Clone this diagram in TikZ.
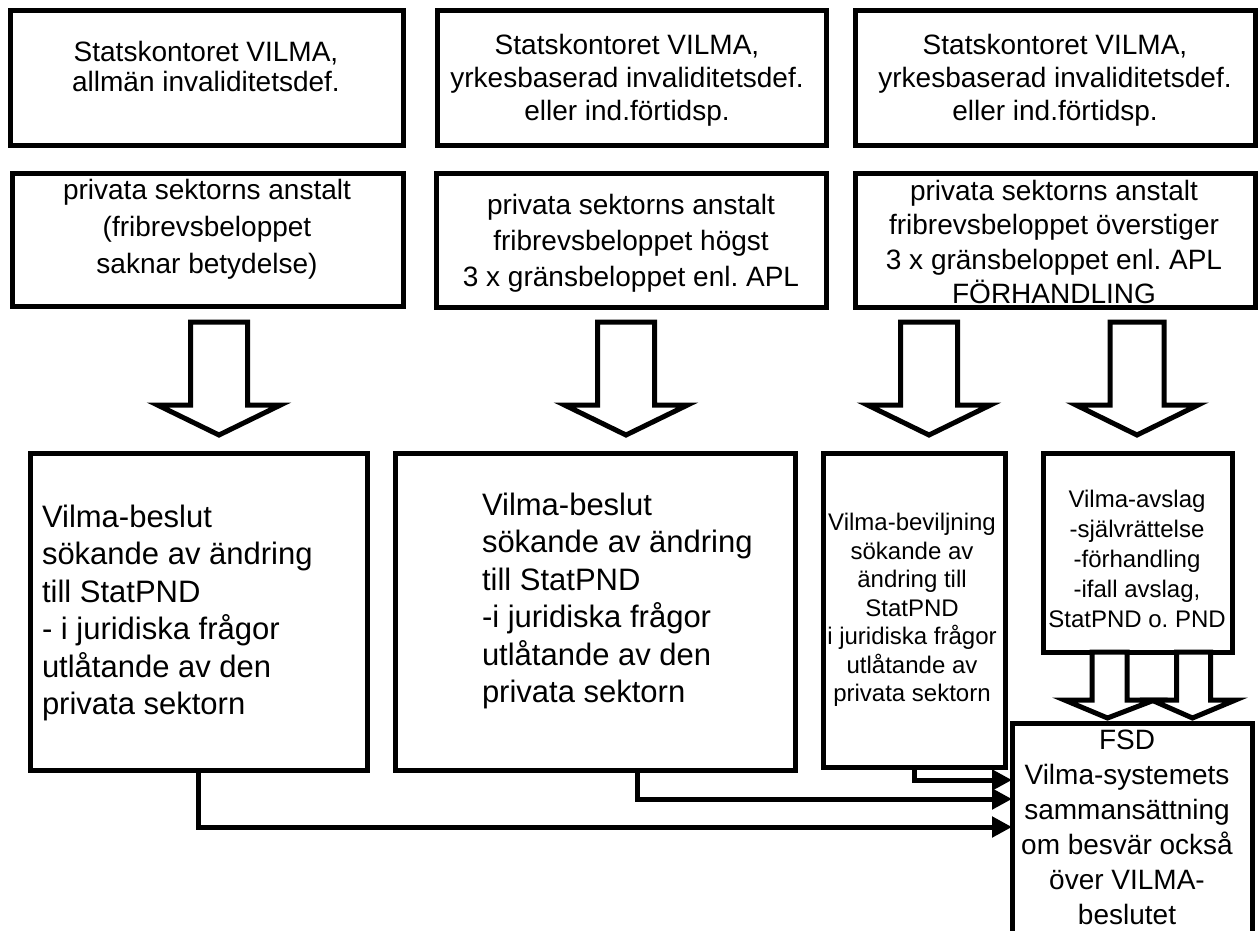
\documentclass[tikz,border=0pt]{standalone}
\usepackage{fontspec}
\setmainfont{Liberation Sans}
\usetikzlibrary{arrows.meta,calc}
\frenchspacing
\newcommand\downblock[7]{%
  \draw[barrow] (#1-#5,#2) -- (#1-#5,#3) -- (#1-#6,#3) -- (#1+#7,#4) -- (#1+#6,#3) -- (#1+#5,#3) -- (#1+#5,#2) -- cycle;}
\begin{document}
\begin{tikzpicture}[x=1pt,y=-1pt,
  box/.style={draw, line width=5pt, inner sep=0pt, outer sep=0pt},
  txt/.style={inner sep=0pt, outer sep=0pt, align=center},
  ltxt/.style={inner sep=0pt, outer sep=0pt, align=left, anchor=west},
  barrow/.style={draw, fill=white, line width=5pt, line join=miter},
  conn/.style={line width=5pt, -{Triangle[length=20pt,width=20pt]}},
]
\useasboundingbox (0,0) rectangle (1258,930);
\clip (0,0) rectangle (1258,930);

% texts
\node[txt, font=\fontsize{28pt}{30pt}\selectfont] (tA1) at (206,66) {Statskontoret VILMA,\\allmän invaliditetsdef.};
\node[txt, font=\fontsize{28pt}{33pt}\selectfont] (tA2) at (627,80) {Statskontoret VILMA,\\yrkesbaserad invaliditetsdef.\\eller ind.förtidsp.};
\node[txt, font=\fontsize{28pt}{33pt}\selectfont] (tA3) at (1055,80) {Statskontoret VILMA,\\yrkesbaserad invaliditetsdef.\\eller ind.förtidsp.};
\node[txt, font=\fontsize{28pt}{37pt}\selectfont] (tB1) at (207,229) {privata sektorns anstalt\\(fribrevsbeloppet\\saknar betydelse)};
\node[txt, font=\fontsize{28pt}{36pt}\selectfont] (tB2) at (631,243) {privata sektorns anstalt\\fribrevsbeloppet högst\\3 x gränsbeloppet enl. APL};
\node[txt, font=\fontsize{28pt}{34.5pt}\selectfont] (tB3) at (1054,242) {privata sektorns anstalt\\fribrevsbeloppet överstiger\\3 x gränsbeloppet enl. APL\\FÖRHANDLING};
\node[ltxt, font=\fontsize{31pt}{37.5pt}\selectfont] (tC1) at (42,613) {Vilma-beslut\\sökande av ändring\\till StatPND\\- i juridiska frågor\\utlåtande av den\\privata sektorn};
\node[ltxt, font=\fontsize{31pt}{37.5pt}\selectfont] (tC2) at (482,601) {Vilma-beslut\\sökande av ändring\\till StatPND\\-i juridiska frågor\\utlåtande av den\\privata sektorn};
\node[txt, font=\fontsize{24pt}{28.5pt}\selectfont] (tC3) at (912,610) {Vilma-beviljning\\sökande av\\ändring till\\StatPND\\i juridiska frågor\\utlåtande av\\privata sektorn};
\node[txt, font=\fontsize{24pt}{30pt}\selectfont] (tC4) at (1137,559) {Vilma-avslag\\-självrättelse\\-förhandling\\-ifall avslag,\\StatPND o. PND};
\node[txt, font=\fontsize{28pt}{35pt}\selectfont] (tF) at (1127,827) {FSD\\Vilma-systemets\\sammansättning\\om besvär också\\över VILMA-\\beslutet};

% boxes
\node[box, minimum width=393pt, minimum height=135pt] (A1) at (206.5,77.5) {};
\node[box, minimum width=389pt, minimum height=135pt] (A2) at (631.5,77.5) {};
\node[box, minimum width=400pt, minimum height=135pt] (A3) at (1055,77.5) {};
\node[box, minimum width=391pt, minimum height=133pt] (B1) at (207.5,239.5) {};
\node[box, minimum width=390pt, minimum height=134pt] (B2) at (631,240) {};
\node[box, minimum width=400pt, minimum height=134pt] (B3) at (1055,240) {};
\node[box, minimum width=337pt, minimum height=317pt] (C1) at (198.5,611.5) {};
\node[box, minimum width=400pt, minimum height=317pt] (C2) at (595,611.5) {};
\node[box, minimum width=182pt, minimum height=314pt] (C3) at (914,610) {};
\node[box, minimum width=189pt, minimum height=199pt] (C4) at (1137.5,552.5) {};
\node[box, minimum width=240pt, minimum height=222pt] (FSD) at (1132,834) {};

% block arrows: cx, top, head y, tip y, shaft half, head half, tip offset
\downblock{219}{322}{405}{435}{28.5}{61.5}{0}
\downblock{626}{322}{405}{435}{28.5}{61.5}{0}
\downblock{929}{322}{405}{435}{28.5}{61.5}{0}
\downblock{1137}{322}{405}{435}{27}{61}{0}
\downblock{1109.5}{652}{700}{718}{17.5}{45}{-2}
\downblock{1193.5}{652}{700}{718}{17}{42}{-1}

% connectors
\draw[conn] (C3.south) |- ([yshift=-57pt]FSD.north west);
\draw[conn] ([xshift=42pt]C2.south) |- ([yshift=-76pt]FSD.north west);
\draw[conn] (C1.south) |- ([yshift=-104pt]FSD.north west);
\end{tikzpicture}
\end{document}
